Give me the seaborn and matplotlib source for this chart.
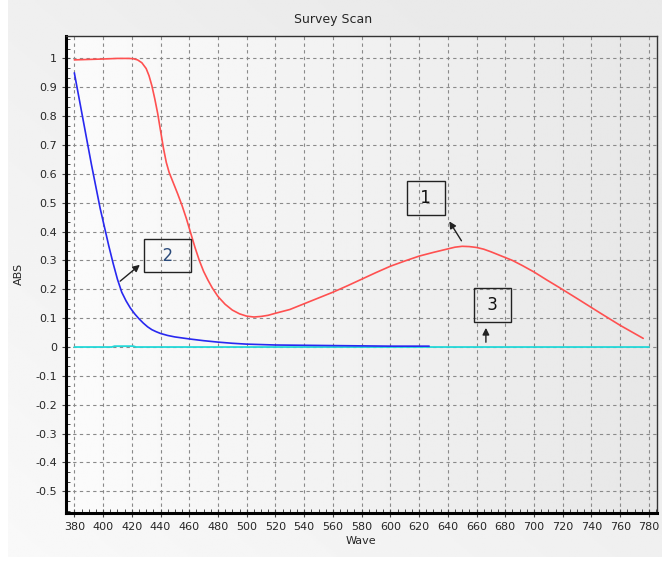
import matplotlib
matplotlib.use('Agg')
import matplotlib.pyplot as plt
from matplotlib.ticker import MultipleLocator, AutoMinorLocator
import numpy as np
import pandas as pd
import seaborn as sns

# curve 1 (red)
red_wave = [380, 400, 410, 418, 421, 424, 427, 430, 432, 434, 436, 438, 440, 442, 444,
            446, 448, 450, 452, 455, 458, 461, 464, 467, 470, 473, 476, 480, 485, 490,
            495, 500, 505, 510, 515, 520, 530, 540, 550, 560, 570, 580, 590, 600, 610,
            620, 630, 640, 645, 650, 655, 660, 665, 670, 677, 685, 692, 700, 709, 718,
            730, 746, 760, 776]
red_abs = [0.995, 0.998, 1.0, 1.0, 0.999, 0.995, 0.985, 0.965, 0.94, 0.905, 0.86, 0.81,
           0.75, 0.69, 0.64, 0.605, 0.58, 0.555, 0.53, 0.49, 0.445, 0.395, 0.345, 0.30,
           0.262, 0.232, 0.205, 0.175, 0.148, 0.128, 0.115, 0.107, 0.104, 0.106, 0.11,
           0.117, 0.13, 0.15, 0.17, 0.19, 0.212, 0.235, 0.258, 0.28, 0.298, 0.315, 0.328,
           0.34, 0.346, 0.349, 0.348, 0.345, 0.339, 0.33, 0.316, 0.30, 0.282, 0.26, 0.232,
           0.205, 0.168, 0.118, 0.075, 0.03]

# curve 2 (blue)
blue_wave = [380, 383, 386, 389, 392, 395, 398, 401, 404, 407, 410, 413, 416, 419, 422,
             425, 428, 431, 434, 437, 440, 445, 450, 460, 470, 480, 490, 500, 520, 540,
             560, 580, 600, 627]
blue_abs = [0.95, 0.87, 0.79, 0.71, 0.63, 0.555, 0.48, 0.415, 0.35, 0.29, 0.235, 0.19,
            0.16, 0.135, 0.115, 0.098, 0.083, 0.07, 0.06, 0.053, 0.047, 0.04, 0.035, 0.028,
            0.022, 0.017, 0.013, 0.01, 0.007, 0.006, 0.005, 0.004, 0.003, 0.003]

# curve 3 (cyan, baseline)
cyan_wave = [380, 406, 408, 421, 423, 780]
cyan_abs = [0.0, 0.0, 0.003, 0.003, 0.0, 0.0]

# labels: text, box centre, arrow tail, arrow head
labels = [' 1 ', '  2  ', ' 3 ']
label_pad = [0.5, 0.45, 0.48]
label_box = [(624.7, 0.516), (444.8, 0.317), (671.0, 0.147)]
arrow_tail = [(650.5, 0.360), (410.4, 0.222), (666.5, 0.007)]
arrow_head = [(640.0, 0.4435), (427.1, 0.291), (666.5, 0.076)]
label_colors = ['#111111', '#2a4a7a', '#111111']

sns.set_style('ticks')
plt.rcParams['font.family'] = ['DejaVu Sans']

fig = plt.figure(figsize=(6.62, 5.66), dpi=100, facecolor='white')

# light grey panel behind everything
bg = fig.add_axes([8 / 662, 9 / 566, 1 - 8 / 662, 1 - 9 / 566], zorder=-5)
grad = np.linspace(0, 1, 256)
gx, gy = np.meshgrid(grad, grad)
bg.imshow(0.975 - 0.06 * np.clip(0.6 * gx + 0.6 * (1 - gy), 0, 1), cmap='gray', vmin=0, vmax=1,
          aspect='auto', extent=[0, 1, 0, 1], origin='upper')
bg.set_axis_off()

ax = fig.add_axes([0.0997, 0.0942, 0.8923, 0.8427])
ax.patch.set_alpha(0)
ax.imshow(np.tile(0.985 - 0.08 * grad, (2, 1)), cmap='gray', vmin=0, vmax=1, aspect='auto',
          extent=[0, 1, 0, 1], transform=ax.transAxes, zorder=-2)

cyan = pd.DataFrame({'wave': cyan_wave, 'abs': cyan_abs})
blue = pd.DataFrame({'wave': blue_wave, 'abs': blue_abs})
red = pd.DataFrame({'wave': red_wave, 'abs': red_abs})
sns.lineplot(data=cyan, x='wave', y='abs', color='#22d8d8', lw=1.3, ax=ax, sort=False)
sns.lineplot(data=blue, x='wave', y='abs', color='#2828f0', lw=1.2, ax=ax, sort=False)
sns.lineplot(data=red, x='wave', y='abs', color='#ff5050', lw=1.2, ax=ax, sort=False)

for txt, pad, box, tail, head, col in zip(labels, label_pad, label_box, arrow_tail, arrow_head, label_colors):
    ax.text(box[0], box[1], txt, ha='center', va='center', fontsize=12, color=col,
            bbox=dict(boxstyle='square,pad=%s' % pad, fc='none', ec='#222222', lw=1.0))
    ax.annotate('', xy=head, xytext=tail,
                arrowprops=dict(arrowstyle='-|>', color='#222222', lw=1.0, mutation_scale=10))

ax.set_xlim(374.2, 785.4)
ax.set_ylim(-0.574, 1.0787)
ax.xaxis.set_major_locator(MultipleLocator(20))
ax.xaxis.set_minor_locator(AutoMinorLocator(4))
ax.yaxis.set_major_locator(MultipleLocator(0.1))
ax.yaxis.set_minor_locator(AutoMinorLocator(3))
ax.set_yticklabels([('%g' % round(v, 1)) for v in ax.get_yticks()])
ax.grid(True, which='major', color='#8a8a8a', ls=(0, (3, 3)), lw=0.8)
ax.tick_params(which='major', direction='inout', length=6, width=0.8, labelsize=8, color='#444444')
ax.tick_params(which='minor', direction='in', length=3, width=0.7, color='#444444')

for side in ['left', 'bottom']:
    ax.spines[side].set_linewidth(2.2)
    ax.spines[side].set_color('black')
for side in ['top', 'right']:
    ax.spines[side].set_visible(True)
    ax.spines[side].set_linewidth(1.0)
    ax.spines[side].set_color('#333333')

ax.set_xlabel('Wave', fontsize=8, labelpad=3)
ax.set_ylabel('ABS', fontsize=8, labelpad=8)
fig.text(0.503, 1 - 19 / 566, 'Survey Scan', ha='center', va='center', fontsize=9)

fig.savefig('out.png', dpi=100, facecolor=fig.get_facecolor())
